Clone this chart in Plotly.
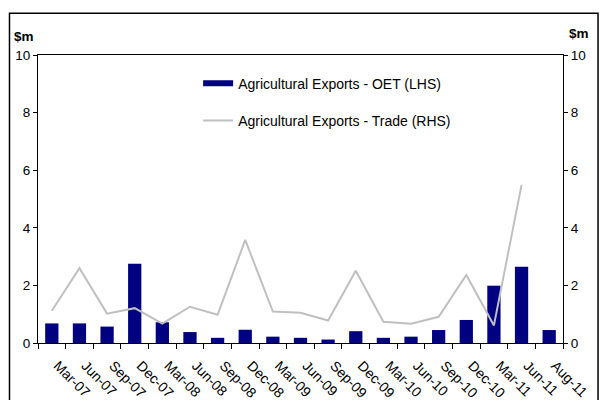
import plotly.graph_objects as go

categories = ["Mar-07", "Jun-07", "Sep-07", "Dec-07", "Mar-08", "Jun-08", "Sep-08", "Dec-08",
              "Mar-09", "Jun-09", "Sep-09", "Dec-09", "Mar-10", "Jun-10", "Sep-10", "Dec-10",
              "Mar-11", "Jun-11", "Aug-11"]
oet_values = [0.68, 0.68, 0.57, 2.75, 0.72, 0.38, 0.18, 0.46, 0.22, 0.18,
              0.12, 0.41, 0.18, 0.22, 0.45, 0.80, 1.99, 2.65, 0.45]
trade_values = [1.12, 2.60, 1.02, 1.21, 0.67, 1.26, 0.98, 3.58, 1.09, 1.05,
                0.78, 2.51, 0.74, 0.67, 0.91, 2.36, 0.61, 5.49, None]
y_ticks = [0, 2, 4, 6, 8, 10]

FONT = "Liberation Sans, Arial, sans-serif"
NAVY = "#000080"
GREY = "#C0C0C0"

fig = go.Figure()
fig.add_trace(go.Bar(x=categories, y=oet_values, marker=dict(color=NAVY, line=dict(width=0)),
                     name="Agricultural Exports - OET (LHS)", showlegend=False, yaxis="y"))
# legend entry for the bars (wide flat swatch like the original)
fig.add_trace(go.Scatter(x=[None], y=[None], mode="lines", line=dict(color=NAVY, width=6),
                         name="Agricultural Exports - OET (LHS)", legendgroup="a"))
fig.add_trace(go.Scatter(x=categories, y=trade_values, mode="lines", line=dict(color=GREY, width=2),
                         name="Agricultural Exports - Trade (RHS)", yaxis="y2", legendgroup="b"))

axis_common = dict(range=[0, 10], tickvals=y_ticks, ticks="outside", ticklen=4, tickcolor="black",
                   showline=True, linecolor="black", linewidth=1, showgrid=False, zeroline=False,
                   automargin=False, tickfont=dict(family=FONT, size=13.5, color="black"))

fig.update_layout(
    width=601, height=400,
    margin=dict(l=38, r=38, t=55, b=57),
    paper_bgcolor="white", plot_bgcolor="white",
    bargap=0.52,
    font=dict(family=FONT, color="black"),
    xaxis=dict(type="category", tickson="boundaries", ticks="outside", ticklen=5, tickcolor="black",
               showline=True, linecolor="black", linewidth=1, mirror=True, showgrid=False,
               automargin=False, tickangle=45, ticklabelstandoff=8, ticklabelshift=6,
               tickfont=dict(family=FONT, size=14, color="black")),
    yaxis=dict(side="left", **axis_common),
    yaxis2=dict(side="right", overlaying="y", **axis_common),
    legend=dict(x=0.305, y=0.956, xanchor="left", yanchor="top", bgcolor="rgba(0,0,0,0)",
                font=dict(family=FONT, size=14, color="black"), traceorder="grouped",
                tracegroupgap=16, itemwidth=30),
    annotations=[
        dict(text="<b>$m</b>", xref="paper", yref="paper", x=-0.049, y=1.064, xanchor="left",
             yanchor="middle", showarrow=False, font=dict(family=FONT, size=13.5, color="black")),
        dict(text="<b>$m</b>", xref="paper", yref="paper", x=1.007, y=1.076, xanchor="left",
             yanchor="middle", showarrow=False, font=dict(family=FONT, size=13.5, color="black")),
    ],
    shapes=[dict(type="rect", xref="paper", yref="paper", x0=-0.0543, x1=1.0667, y0=-0.25, y1=1.1448,
                 line=dict(color="black", width=1.5), fillcolor="rgba(0,0,0,0)", layer="above")],
)

fig.write_html("out.html", config={"displayModeBar": False},
               post_script="document.body.style.margin='0';document.body.style.overflow='hidden';")
